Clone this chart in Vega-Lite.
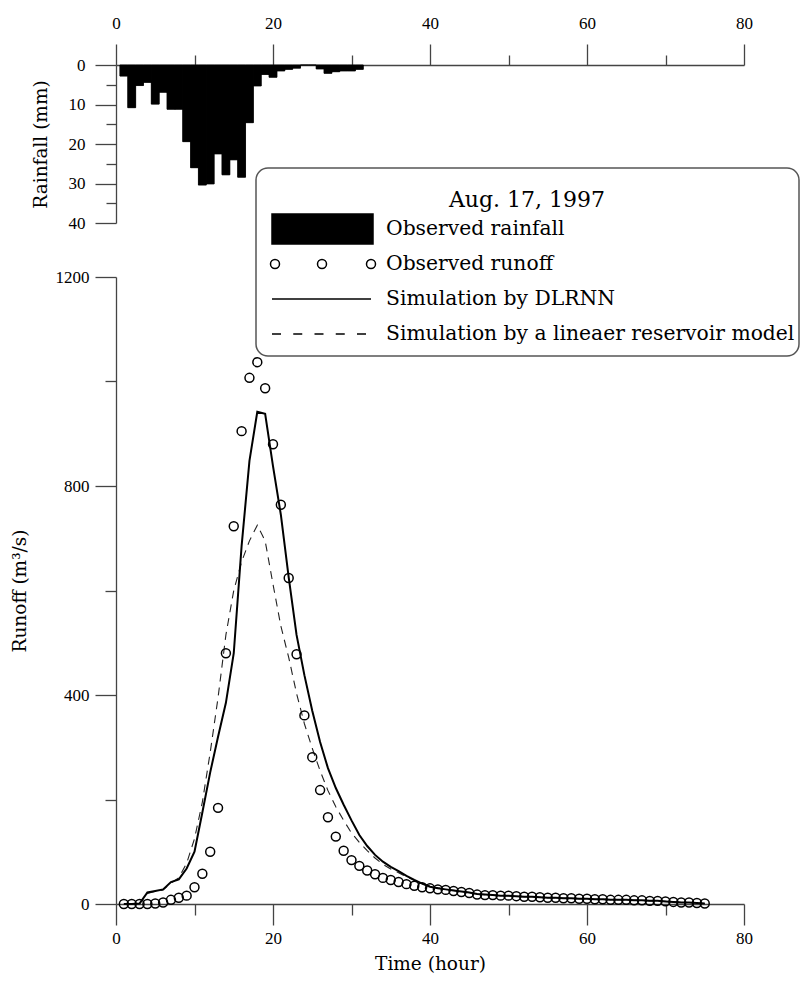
{
  "$schema": "https://vega.github.io/schema/vega-lite/v6.json",
  "padding": {"left": 10, "top": 14, "right": 0, "bottom": 0},
  "bounds": "flush",
  "spacing": 54,
  "datasets": {
    "rain": [
      {"t0": 0.5, "t1": 1.5, "rain": 2.8}, {"t0": 1.5, "t1": 2.5, "rain": 10.8}, {"t0": 2.5, "t1": 3.5, "rain": 5.2},
      {"t0": 3.5, "t1": 4.5, "rain": 4.4}, {"t0": 4.5, "t1": 5.5, "rain": 9.9}, {"t0": 5.5, "t1": 6.5, "rain": 6.9},
      {"t0": 6.5, "t1": 7.5, "rain": 11.2}, {"t0": 7.5, "t1": 8.5, "rain": 11.2}, {"t0": 8.5, "t1": 9.5, "rain": 19.4},
      {"t0": 9.5, "t1": 10.5, "rain": 26.0}, {"t0": 10.5, "t1": 11.5, "rain": 30.4}, {"t0": 11.5, "t1": 12.5, "rain": 30.1},
      {"t0": 12.5, "t1": 13.5, "rain": 22.5}, {"t0": 13.5, "t1": 14.5, "rain": 27.8}, {"t0": 14.5, "t1": 15.5, "rain": 24.0},
      {"t0": 15.5, "t1": 16.5, "rain": 28.4}, {"t0": 16.5, "t1": 17.5, "rain": 14.6}, {"t0": 17.5, "t1": 18.5, "rain": 5.3},
      {"t0": 18.5, "t1": 19.5, "rain": 2.4}, {"t0": 19.5, "t1": 20.5, "rain": 3.1}, {"t0": 20.5, "t1": 21.5, "rain": 1.5},
      {"t0": 21.5, "t1": 22.5, "rain": 1.1}, {"t0": 22.5, "t1": 23.5, "rain": 0.8}, {"t0": 23.5, "t1": 24.5, "rain": 0},
      {"t0": 24.5, "t1": 25.5, "rain": 0}, {"t0": 25.5, "t1": 26.5, "rain": 1.0}, {"t0": 26.5, "t1": 27.5, "rain": 2.1},
      {"t0": 27.5, "t1": 28.5, "rain": 1.7}, {"t0": 28.5, "t1": 29.5, "rain": 1.5}, {"t0": 29.5, "t1": 30.5, "rain": 1.5},
      {"t0": 30.5, "t1": 31.5, "rain": 1.1}
    ],
    "runoff": [
      {"hour": 1, "obs": 0, "dlrnn": 0, "lrm": 0}, {"hour": 2, "obs": 0, "dlrnn": 0, "lrm": 0},
      {"hour": 3, "obs": 0, "dlrnn": 1, "lrm": 1}, {"hour": 4, "obs": 0, "dlrnn": 22, "lrm": 20},
      {"hour": 5, "obs": 1, "dlrnn": 25, "lrm": 24}, {"hour": 6, "obs": 3, "dlrnn": 28, "lrm": 27},
      {"hour": 7, "obs": 8, "dlrnn": 42, "lrm": 40}, {"hour": 8, "obs": 12, "dlrnn": 47, "lrm": 50},
      {"hour": 9, "obs": 16, "dlrnn": 68, "lrm": 78}, {"hour": 10, "obs": 32, "dlrnn": 100, "lrm": 125},
      {"hour": 11, "obs": 58, "dlrnn": 175, "lrm": 195}, {"hour": 12, "obs": 100, "dlrnn": 252, "lrm": 290},
      {"hour": 13, "obs": 184, "dlrnn": 320, "lrm": 395}, {"hour": 14, "obs": 480, "dlrnn": 385, "lrm": 515},
      {"hour": 15, "obs": 723, "dlrnn": 480, "lrm": 600}, {"hour": 16, "obs": 905, "dlrnn": 685, "lrm": 655},
      {"hour": 17, "obs": 1007, "dlrnn": 848, "lrm": 695}, {"hour": 18, "obs": 1037, "dlrnn": 942, "lrm": 725},
      {"hour": 19, "obs": 987, "dlrnn": 938, "lrm": 695}, {"hour": 20, "obs": 880, "dlrnn": 838, "lrm": 612},
      {"hour": 21, "obs": 764, "dlrnn": 745, "lrm": 532}, {"hour": 22, "obs": 624, "dlrnn": 625, "lrm": 472},
      {"hour": 23, "obs": 478, "dlrnn": 515, "lrm": 403}, {"hour": 24, "obs": 361, "dlrnn": 438, "lrm": 345},
      {"hour": 25, "obs": 281, "dlrnn": 370, "lrm": 298}, {"hour": 26, "obs": 218, "dlrnn": 310, "lrm": 255},
      {"hour": 27, "obs": 166, "dlrnn": 260, "lrm": 217}, {"hour": 28, "obs": 129, "dlrnn": 222, "lrm": 186},
      {"hour": 29, "obs": 102, "dlrnn": 190, "lrm": 160}, {"hour": 30, "obs": 84, "dlrnn": 160, "lrm": 136},
      {"hour": 31, "obs": 73, "dlrnn": 132, "lrm": 118}, {"hour": 32, "obs": 64, "dlrnn": 111, "lrm": 102},
      {"hour": 33, "obs": 57, "dlrnn": 94, "lrm": 88}, {"hour": 34, "obs": 50, "dlrnn": 81, "lrm": 76},
      {"hour": 35, "obs": 46, "dlrnn": 71, "lrm": 67}, {"hour": 36, "obs": 42, "dlrnn": 63, "lrm": 60},
      {"hour": 37, "obs": 38, "dlrnn": 54, "lrm": 52}, {"hour": 38, "obs": 35, "dlrnn": 46, "lrm": 45},
      {"hour": 39, "obs": 32, "dlrnn": 39, "lrm": 39}, {"hour": 40, "obs": 30, "dlrnn": 33, "lrm": 34},
      {"hour": 41, "obs": 28, "dlrnn": 30, "lrm": 31}, {"hour": 42, "obs": 27, "dlrnn": 28, "lrm": 28},
      {"hour": 43, "obs": 25, "dlrnn": 26, "lrm": 26}, {"hour": 44, "obs": 23, "dlrnn": 24, "lrm": 24},
      {"hour": 45, "obs": 21, "dlrnn": 22, "lrm": 22}, {"hour": 46, "obs": 18, "dlrnn": 19, "lrm": 19},
      {"hour": 47, "obs": 17, "dlrnn": 18, "lrm": 18}, {"hour": 48, "obs": 17, "dlrnn": 17, "lrm": 17},
      {"hour": 49, "obs": 16, "dlrnn": 16, "lrm": 16}, {"hour": 50, "obs": 16, "dlrnn": 16, "lrm": 16},
      {"hour": 51, "obs": 15, "dlrnn": 15, "lrm": 15}, {"hour": 52, "obs": 14, "dlrnn": 14, "lrm": 14},
      {"hour": 53, "obs": 14, "dlrnn": 14, "lrm": 14}, {"hour": 54, "obs": 13, "dlrnn": 13, "lrm": 13},
      {"hour": 55, "obs": 12, "dlrnn": 12, "lrm": 12}, {"hour": 56, "obs": 12, "dlrnn": 12, "lrm": 12},
      {"hour": 57, "obs": 11, "dlrnn": 11, "lrm": 11}, {"hour": 58, "obs": 11, "dlrnn": 11, "lrm": 11},
      {"hour": 59, "obs": 10, "dlrnn": 10, "lrm": 10}, {"hour": 60, "obs": 10, "dlrnn": 10, "lrm": 10},
      {"hour": 61, "obs": 9, "dlrnn": 9, "lrm": 9}, {"hour": 62, "obs": 9, "dlrnn": 9, "lrm": 9},
      {"hour": 63, "obs": 8, "dlrnn": 8, "lrm": 8}, {"hour": 64, "obs": 8, "dlrnn": 8, "lrm": 8},
      {"hour": 65, "obs": 8, "dlrnn": 8, "lrm": 8}, {"hour": 66, "obs": 7, "dlrnn": 7, "lrm": 7},
      {"hour": 67, "obs": 7, "dlrnn": 7, "lrm": 7}, {"hour": 68, "obs": 6, "dlrnn": 6, "lrm": 6},
      {"hour": 69, "obs": 6, "dlrnn": 6, "lrm": 6}, {"hour": 70, "obs": 5, "dlrnn": 5, "lrm": 5},
      {"hour": 71, "obs": 4, "dlrnn": 4, "lrm": 4}, {"hour": 72, "obs": 3, "dlrnn": 3, "lrm": 3},
      {"hour": 73, "obs": 3, "dlrnn": 3, "lrm": 3}, {"hour": 74, "obs": 2, "dlrnn": 2, "lrm": 2},
      {"hour": 75, "obs": 1, "dlrnn": 1, "lrm": 1}
    ],
    "legend": [
      {"series": "Observed rainfall"},
      {"series": "Observed runoff"},
      {"series": "Simulation by DLRNN"},
      {"series": "Simulation by a lineaer reservoir model"}
    ]
  },
  "vconcat": [
    {
      "width": 628,
      "height": 158,
      "data": {"name": "rain"},
      "layer": [
        {
          "mark": {"type": "bar", "color": "black", "stroke": "black", "strokeWidth": 0.5},
          "encoding": {
            "x": {"field": "t0", "type": "quantitative", "scale": {"domain": [0, 80], "nice": false},
              "axis": {"orient": "top", "values": [0, 20, 40, 60, 80], "tickSize": 21, "labelPadding": 12, "title": null, "labelFlush": false}},
            "x2": {"field": "t1"},
            "y": {"field": "rain", "type": "quantitative", "scale": {"domain": [0, 40], "reverse": true, "nice": false},
              "axis": {"orient": "left", "values": [0, 10, 20, 30, 40], "tickSize": 21, "labelPadding": 10, "title": "Rainfall (mm)", "titlePadding": 18}},
            "y2": {"datum": 0}
          }
        },
        {
          "mark": {"type": "bar", "color": "black", "stroke": "black", "strokeWidth": 0.5},
          "encoding": {
            "x": {"field": "t0", "type": "quantitative", "scale": {"domain": [0, 80], "nice": false},
              "axis": {"orient": "top", "values": [10, 30, 50, 70], "tickSize": 10, "labels": false, "domain": false, "title": null}},
            "x2": {"field": "t1"},
            "y": {"field": "rain", "type": "quantitative", "scale": {"domain": [0, 40], "reverse": true, "nice": false},
              "axis": {"orient": "left", "values": [5, 15, 25, 35], "tickSize": 10, "labels": false, "domain": false, "title": null}},
            "y2": {"datum": 0}
          }
        }
      ],
      "resolve": {"axis": {"x": "independent", "y": "independent"}}
    },
    {
      "width": 628,
      "height": 627,
      "layer": [
        {
          "data": {"name": "runoff"},
          "mark": {"type": "line", "color": "#222", "strokeWidth": 1.1, "strokeDash": [8, 6]},
          "encoding": {
            "x": {"field": "hour", "type": "quantitative", "scale": {"domain": [0, 80], "nice": false},
              "axis": {"orient": "bottom", "values": [0, 20, 40, 60, 80], "tickSize": 21, "labelPadding": 5, "title": "Time (hour)", "titlePadding": 8, "labelFlush": false}},
            "y": {"field": "lrm", "type": "quantitative", "scale": {"domain": [0, 1200], "nice": false},
              "axis": {"orient": "left", "values": [0, 400, 800, 1200], "format": "d", "tickSize": 21, "labelPadding": 6, "title": "Runoff (m³/s)", "titlePadding": 26}}
          }
        },
        {
          "data": {"name": "runoff"},
          "mark": {"type": "line", "color": "black", "strokeWidth": 2},
          "encoding": {
            "x": {"field": "hour", "type": "quantitative", "scale": {"domain": [0, 80], "nice": false},
              "axis": {"orient": "bottom", "values": [10, 30, 50, 70], "tickSize": 11, "labels": false, "domain": false, "title": null}},
            "y": {"field": "dlrnn", "type": "quantitative", "scale": {"domain": [0, 1200], "nice": false},
              "axis": {"orient": "left", "values": [200, 600, 1000], "tickSize": 11, "labels": false, "domain": false, "title": null}}
          }
        },
        {
          "data": {"name": "runoff"},
          "mark": {"type": "point", "shape": "circle", "size": 80, "filled": false, "stroke": "black", "strokeWidth": 1.5, "opacity": 1},
          "encoding": {
            "x": {"field": "hour", "type": "quantitative", "axis": null},
            "y": {"field": "obs", "type": "quantitative", "axis": null}
          }
        },
        {
          "data": {"name": "legend"},
          "mark": {"type": "point", "filled": true, "strokeWidth": 1.5, "opacity": 1, "invalid": "filter"},
          "encoding": {
            "x": {"field": "hour", "type": "quantitative", "axis": null},
            "y": {"field": "q", "type": "quantitative", "axis": null},
            "shape": {"field": "series", "type": "nominal",
              "scale": {"domain": ["Observed rainfall", "Observed runoff", "Simulation by DLRNN", "Simulation by a lineaer reservoir model"],
                "range": ["M-9.1,-1.5H1V1.5H-9.1Z",
                  "M-9.25,0a0.45,0.45 0 1,0 0.9,0a0.45,0.45 0 1,0 -0.9,0M-4.55,0a0.45,0.45 0 1,0 0.9,0a0.45,0.45 0 1,0 -0.9,0M0.35,0a0.45,0.45 0 1,0 0.9,0a0.45,0.45 0 1,0 -0.9,0M0,-1.5M0,1.5",
                  "M-9.1,0H0.8M0,-1.5M0,1.5",
                  "M-9.1,0h0.9M-6.975,0h0.9M-4.85,0h0.9M-2.725,0h0.9M-0.6,0h0.9M0,-1.5M0,1.5"]},
              "legend": {"title": "Aug. 17, 1997"}},
            "fill": {"field": "series", "type": "nominal",
              "scale": {"domain": ["Observed rainfall", "Observed runoff", "Simulation by DLRNN", "Simulation by a lineaer reservoir model"],
                "range": ["black", "transparent", "transparent", "transparent"]},
              "legend": {"title": "Aug. 17, 1997"}},
            "stroke": {"field": "series", "type": "nominal",
              "scale": {"domain": ["Observed rainfall", "Observed runoff", "Simulation by DLRNN", "Simulation by a lineaer reservoir model"],
                "range": ["black", "black", "black", "black"]},
              "legend": {"title": "Aug. 17, 1997"}}
          }
        }
      ],
      "resolve": {"axis": {"x": "independent", "y": "independent"}}
    }
  ],
  "config": {
    "font": "DejaVu Serif",
    "view": {"stroke": null},
    "axis": {
      "domainColor": "#444", "tickColor": "#444", "domainWidth": 1.3, "tickWidth": 1.3,
      "labelColor": "black", "titleColor": "black", "labelFont": "Liberation Serif", "titleFont": "DejaVu Serif",
      "labelFontSize": 17, "titleFontSize": 18.5, "titleFontWeight": "normal", "grid": false
    },
    "legend": {
      "orient": "none", "legendX": 140, "legendY": 103,
      "titleFont": "DejaVu Serif", "titleFontSize": 22, "titleFontWeight": "normal", "titleColor": "black",
      "titleAnchor": "middle", "titleAlign": "center", "titleBaseline": "line-top", "titleLineHeight": 58, "titlePadding": 24,
      "labelFont": "DejaVu Serif", "labelFontSize": 20.3, "labelColor": "black",
      "symbolSize": 400, "symbolOffset": 92, "labelOffset": 12, "symbolStrokeWidth": 1.5, "symbolStrokeColor": "black",
      "rowPadding": -1, "padding": 4, "strokeColor": "#555", "strokeWidth": 1.5, "cornerRadius": 12, "fillColor": "white",
      "labelLimit": 600
    }
  }
}
